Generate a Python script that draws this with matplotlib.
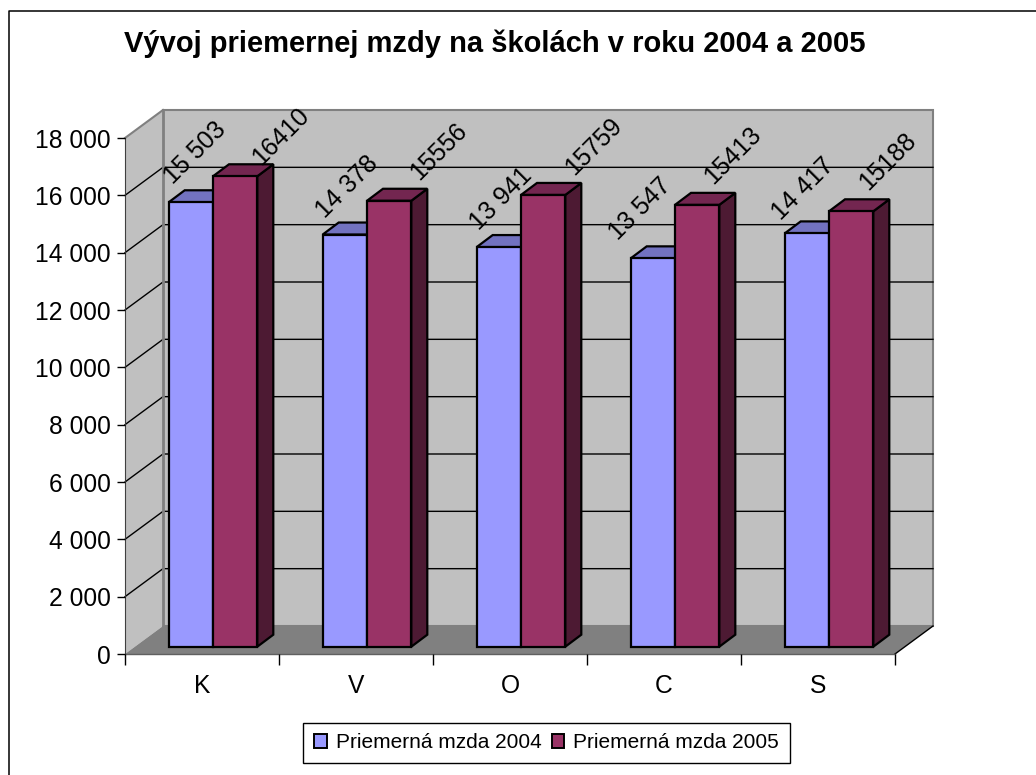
import matplotlib
matplotlib.use('Agg')
import matplotlib.pyplot as plt
from matplotlib.patches import Polygon, Rectangle
import numpy as np

categories = ['K', 'V', 'O', 'C', 'S']
mzda_2004 = [15503, 14378, 13941, 13547, 14417]
mzda_2005 = [16410, 15556, 15759, 15413, 15188]
labels_2004 = ['15 503', '14 378', '13 941', '13 547', '14 417']
labels_2005 = ['16410', '15556', '15759', '15413', '15188']
y_ticks = [0, 2000, 4000, 6000, 8000, 10000, 12000, 14000, 16000, 18000]
y_tick_labels = ['0', '2 000', '4 000', '6 000', '8 000', '10 000', '12 000', '14 000', '16 000', '18 000']
legend_labels = ['Priemerná mzda 2004', 'Priemerná mzda 2005']

plt.rcParams['font.family'] = ['Liberation Sans', 'DejaVu Sans']

W, H = 1036, 775
fig = plt.figure(figsize=(W / 100, H / 100), dpi=100)
# frame of the picture is cut off, only left and top edges show
fig.add_artist(plt.Line2D([8.5 / W, 8.5 / W, 1], [0, 1 - 10.5 / H, 1 - 10.5 / H],
                          transform=fig.transFigure, color='black', lw=1.1))

# front plane of the 3d box, pixels from the reference
left, right, top, bottom = 125, 895, 138, 654
ax = fig.add_axes([left / W, 1 - bottom / H, (right - left) / W, (bottom - top) / H])
ax.set_xlim(0, 5)
ax.set_ylim(0, 18000)
ax.patch.set_visible(False)

px_x = 5 / (right - left)
px_y = 18000 / (bottom - top)
dx = 38 * px_x   # depth of box
dy = 28 * px_y


def poly(pts, fc, ec='none', lw=0, z=1):
    ax.add_patch(Polygon(pts, closed=True, fc=fc, ec=ec, lw=lw, zorder=z, clip_on=False,
                         joinstyle='miter'))


# walls
poly([(dx, dy), (5 + dx, dy), (5 + dx, 18000 + dy), (dx, 18000 + dy)], '#c0c0c0', '#808080', 1.5, 1)
poly([(0, 0), (dx, dy), (dx, 18000 + dy), (0, 18000)], '#c0c0c0', 'none', 0, 1.1)
ax.plot([dx, dx], [dy, 18000 + dy], color='#808080', lw=2, zorder=1.3, clip_on=False)
ax.plot([0, dx], [18000, 18000 + dy], color='#808080', lw=1.5, zorder=1.2, clip_on=False)
poly([(0, 0), (5, 0), (5 + dx, dy), (dx, dy)], '#808080', 'none', 0, 1.3)

# gridlines on the walls
for t in y_ticks[1:-1]:
    ax.plot([0, dx, 5 + dx], [t, t + dy, t + dy], color='black', lw=1, zorder=1.25, clip_on=False)
ax.plot([5, 5 + dx], [0, dy], color='black', lw=1, zorder=1.35, clip_on=False)

# bars
bar_w = 44.3 * px_x
bar_x0 = 43.7 * px_x
base = 7.3 * px_y
bdx = 16 * px_x
bdy = 12 * px_y
# label centres were placed by hand in the original, shift in pixels from bar top left
shift_2004 = [(26, 49), (24, 48), (24, 48), (9, 49), (18, 44)]
shift_2005 = [(68, 40), (72, 49), (73, 48), (58, 49), (59, 50)]
series = [(mzda_2004, labels_2004, shift_2004, '#9999ff', '#7272c0', '#4d4d80'),
          (mzda_2005, labels_2005, shift_2005, '#993366', '#732650', '#4d1a33')]
for i in range(len(categories)):
    for s, (vals, labs, shift, c_front, c_top, c_side) in enumerate(series):
        x0 = i + bar_x0 + s * bar_w
        x1 = x0 + bar_w
        y1 = vals[i] + base
        z = 3 + i + (0.5 if s else 0)
        poly([(x1, base), (x1 + bdx, base + bdy), (x1 + bdx, y1 + bdy), (x1, y1)], c_side, 'black', 1.6, z)
        poly([(x0, y1), (x1, y1), (x1 + bdx, y1 + bdy), (x0 + bdx, y1 + bdy)], c_top, 'black', 1.6, z)
        poly([(x0, base), (x1, base), (x1, y1), (x0, y1)], c_front, 'black', 1.6, z)
        ax.text(x0 + shift[i][0] * px_x, y1 + shift[i][1] * px_y, labs[i], rotation=45,
                rotation_mode='anchor', ha='center', va='center', fontsize=18,
                color='black', zorder=20)

# axes ticks and labels
for sp in ['top', 'right']:
    ax.spines[sp].set_visible(False)
ax.spines['left'].set_color('#404040')
ax.spines['left'].set_zorder(1.4)
ax.spines['bottom'].set_color('#606060')
ax.spines['bottom'].set_linewidth(1)
ax.spines['bottom'].set_zorder(1.4)
ax.set_yticks(y_ticks)
ax.set_yticklabels(y_tick_labels)
ax.set_xticks(range(6))
ax.set_xticklabels([])
ax.set_xticks(np.arange(5) + 0.5, minor=True)
ax.set_xticklabels(categories, minor=True)
ax.tick_params(axis='y', length=6, width=1, labelsize=17.7, pad=4.5)
ax.tick_params(axis='x', which='major', length=8, width=1)
ax.tick_params(axis='x', which='minor', length=0, labelsize=17.7, pad=14.5)

fig.text(495 / W, 1 - 44 / H, 'Vývoj priemernej mzdy na školách v roku 2004 a 2005',
         ha='center', va='center', fontsize=21, fontweight='bold')

# legend
handles = [Rectangle((0, 0), 1, 1, fc='#9999ff', ec='black', lw=1.4),
           Rectangle((0, 0), 1, 1, fc='#993366', ec='black', lw=1.4)]
leg = fig.legend(handles, legend_labels, loc='center', bbox_to_anchor=(546.5 / W, 1 - 743 / H),
                 ncol=2, fontsize=15, fancybox=False, framealpha=1, edgecolor='black',
                 handlelength=0.62, handleheight=0.62, handletextpad=0.43, columnspacing=0.48,
                 borderpad=0.5, borderaxespad=0)
leg.get_frame().set_linewidth(1)

fig.savefig('out.png', dpi=100)
